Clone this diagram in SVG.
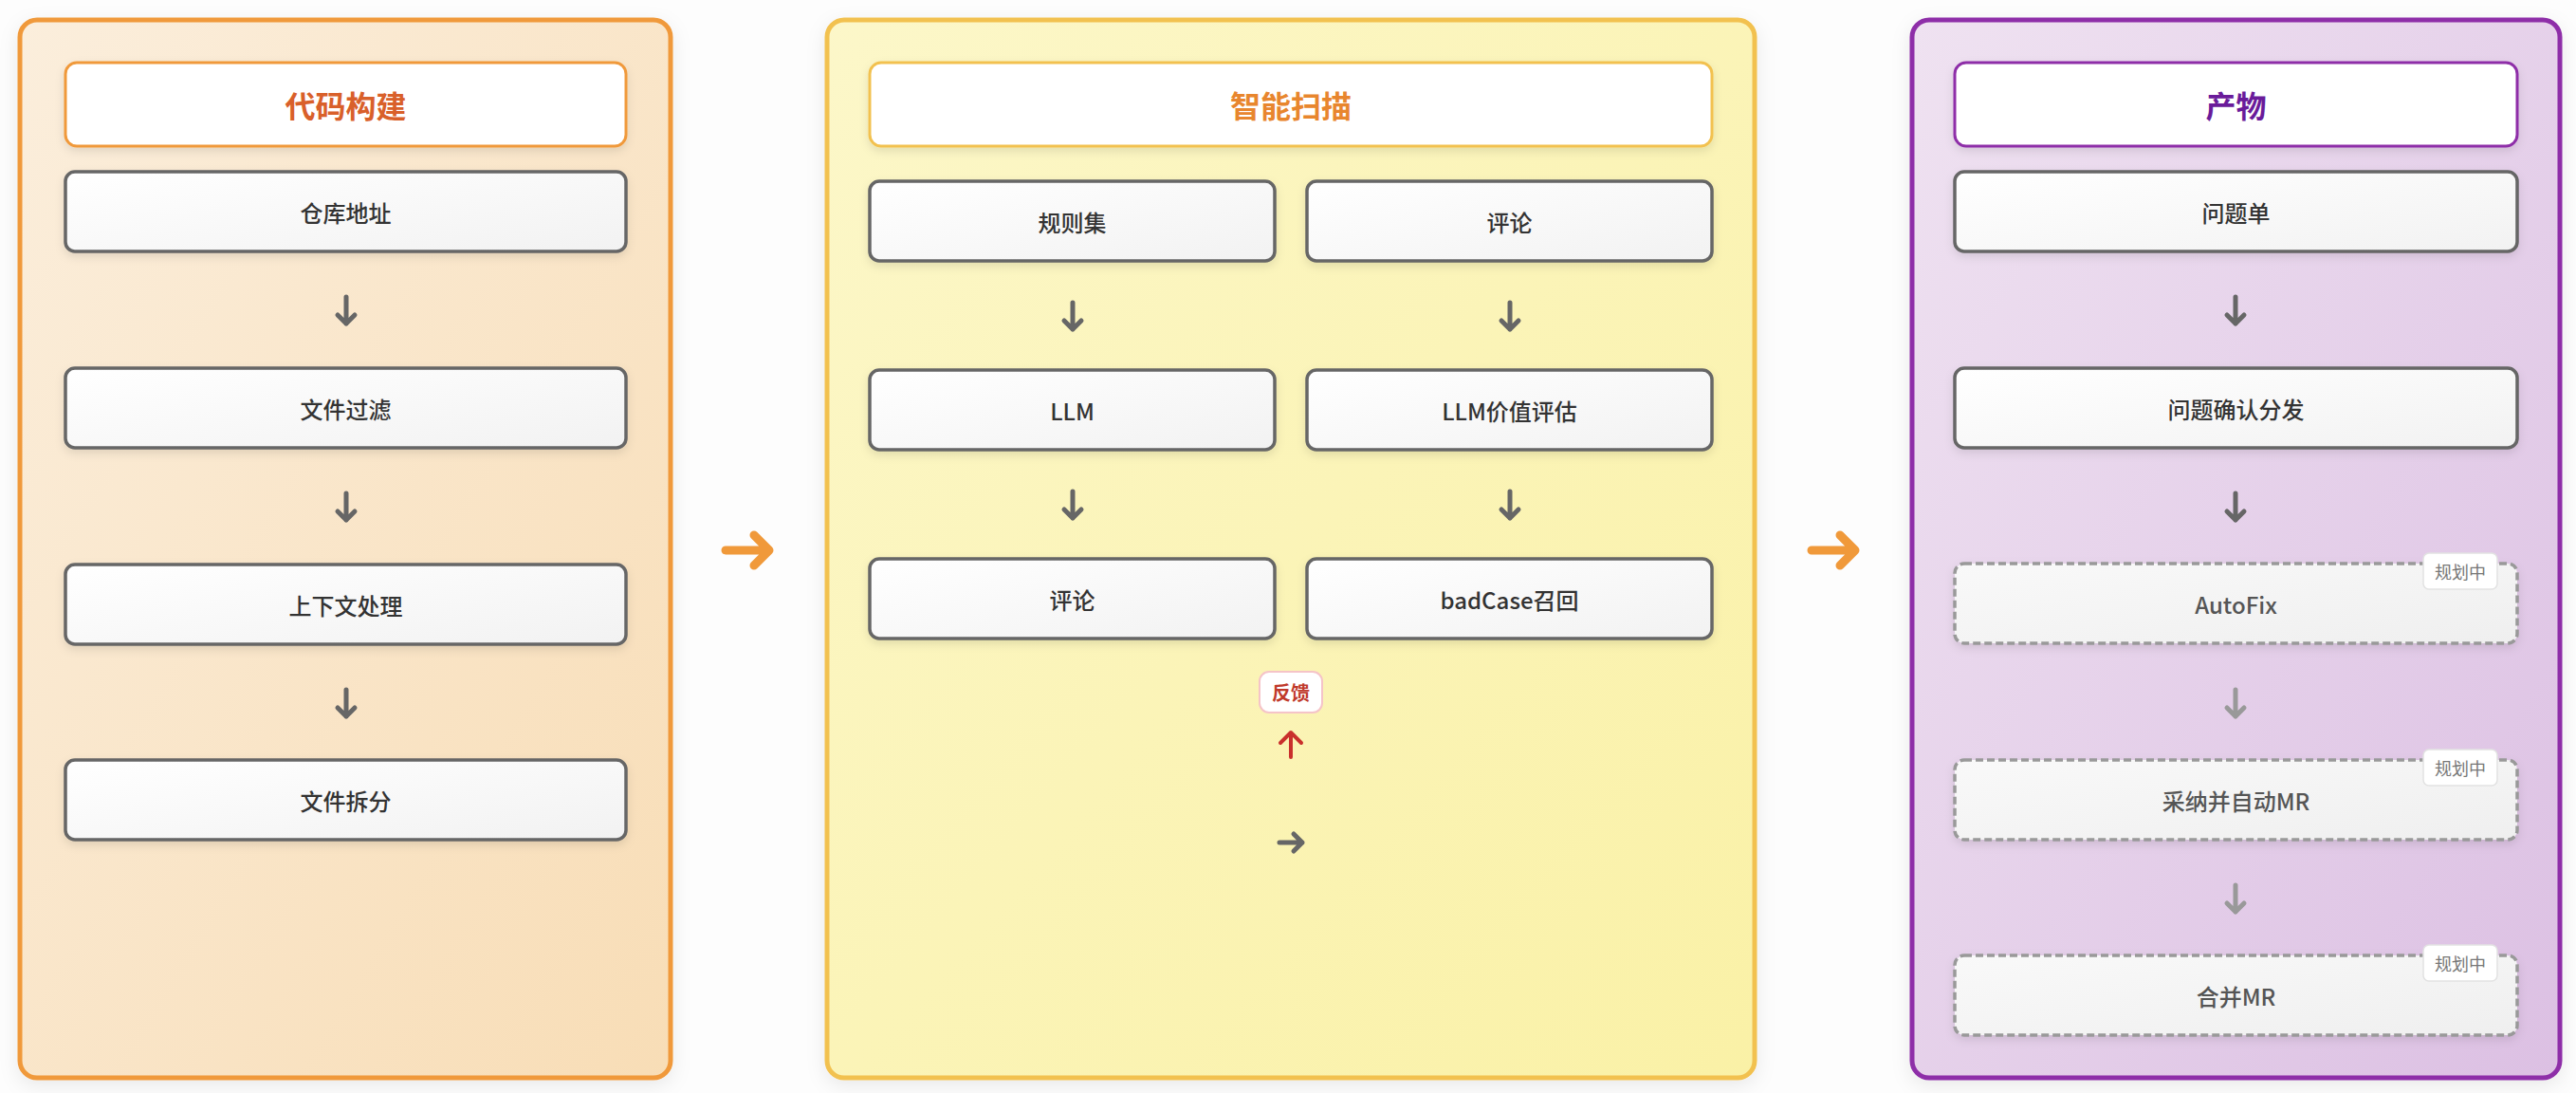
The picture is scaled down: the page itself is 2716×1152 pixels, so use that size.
<svg xmlns="http://www.w3.org/2000/svg" width="2716" height="1152" viewBox="0 0 2716 1152">
<defs>
<linearGradient id="gLeft" x1="0" y1="0" x2="1" y2="1"><stop offset="0" stop-color="#FBEEDC"/><stop offset="1" stop-color="#F8DDB6"/></linearGradient>
<linearGradient id="gMid" x1="0" y1="0" x2="1" y2="1"><stop offset="0" stop-color="#FCF7C9"/><stop offset="1" stop-color="#FAF1A6"/></linearGradient>
<linearGradient id="gRight" x1="0" y1="0" x2="1" y2="1"><stop offset="0" stop-color="#EFE2F1"/><stop offset="1" stop-color="#DCC0E3"/></linearGradient>
<linearGradient id="gNode" x1="0" y1="0" x2="1" y2="1"><stop offset="0" stop-color="#FFFFFF"/><stop offset="1" stop-color="#F2F2F2"/></linearGradient>
<linearGradient id="gPlan" x1="0" y1="0" x2="1" y2="1"><stop offset="0" stop-color="#F9F9F9"/><stop offset="1" stop-color="#EFEFEF"/></linearGradient>
<filter id="sPanel" x="-10%" y="-10%" width="120%" height="120%"><feDropShadow dx="0" dy="6" stdDeviation="10" flood-color="#000" flood-opacity="0.08"/></filter>
<filter id="sNode" x="-10%" y="-20%" width="120%" height="160%"><feDropShadow dx="0" dy="4" stdDeviation="5" flood-color="#000" flood-opacity="0.10"/></filter>
<style>
text{font-family:"Noto Sans CJK SC","Noto Sans",sans-serif;text-anchor:middle;dominant-baseline:central}
.panel{stroke-width:5}
.title{fill:#FFFFFF;stroke-width:3}
.tt{font-size:32px;font-weight:700}
.node{fill:url(#gNode);stroke:#666666;stroke-width:3.5}
.nt{font-size:24px;fill:#333333;font-weight:500}
.plan{fill:url(#gPlan);stroke:#999999;stroke-width:3.5;stroke-dasharray:8 4}
.pt{font-size:24px;fill:#555555;font-weight:500}
.badge{fill:#FFFFFF;stroke:#E2E2E2;stroke-width:1.5}
.bt{font-size:18px;fill:#777777}
.arr{fill:none;stroke-linecap:round;stroke-linejoin:round}
.dark{stroke:#666666;stroke-width:5}
.light{stroke:#999999;stroke-width:5}
.orange{stroke:#F0993A;stroke-width:9}
.red{stroke:#C9302C;stroke-width:4}
</style>
</defs>
<rect width="2716" height="1152" fill="#FDFDFD"/>

<g id="panel-build">
<rect class="panel" x="21" y="21" width="686" height="1115" rx="18" fill="url(#gLeft)" stroke="#F0993A" filter="url(#sPanel)"/>
<g id="title-build"><rect class="title" x="69" y="66" width="591" height="88" rx="12" stroke="#F0993A" filter="url(#sNode)"/><text class="tt" x="364.5" y="110" fill="#D9602A">代码构建</text></g>
<g id="n-repo"><rect class="node" x="69" y="181" width="591" height="84" rx="10" filter="url(#sNode)"/><text class="nt" x="364.5" y="223">仓库地址</text></g>
<g id="n-filter"><rect class="node" x="69" y="388" width="591" height="84" rx="10" filter="url(#sNode)"/><text class="nt" x="364.5" y="430">文件过滤</text></g>
<g id="n-context"><rect class="node" x="69" y="595" width="591" height="84" rx="10" filter="url(#sNode)"/><text class="nt" x="364.5" y="637">上下文处理</text></g>
<g id="n-split"><rect class="node" x="69" y="801" width="591" height="84" rx="10" filter="url(#sNode)"/><text class="nt" x="364.5" y="843">文件拆分</text></g>
</g>

<g id="panel-scan">
<rect class="panel" x="872" y="21" width="978" height="1115" rx="18" fill="url(#gMid)" stroke="#F2C150" filter="url(#sPanel)"/>
<g id="title-scan"><rect class="title" x="917" y="66" width="888" height="88" rx="12" stroke="#F2C150" fill="#FFFFF8" filter="url(#sNode)"/><text class="tt" x="1361" y="110" fill="#E8862E">智能扫描</text></g>
<g id="n-rules"><rect class="node" x="917" y="191" width="427" height="84" rx="10" filter="url(#sNode)"/><text class="nt" x="1130.5" y="233">规则集</text></g>
<g id="n-comment1"><rect class="node" x="1378" y="191" width="427" height="84" rx="10" filter="url(#sNode)"/><text class="nt" x="1591.5" y="233">评论</text></g>
<g id="n-llm"><rect class="node" x="917" y="390" width="427" height="84" rx="10" filter="url(#sNode)"/><text class="nt" x="1130.5" y="432">LLM</text></g>
<g id="n-llmeval"><rect class="node" x="1378" y="390" width="427" height="84" rx="10" filter="url(#sNode)"/><text class="nt" x="1591.5" y="432">LLM价值评估</text></g>
<g id="n-comment2"><rect class="node" x="917" y="589" width="427" height="84" rx="10" filter="url(#sNode)"/><text class="nt" x="1130.5" y="631">评论</text></g>
<g id="n-badcase"><rect class="node" x="1378" y="589" width="427" height="84" rx="10" filter="url(#sNode)"/><text class="nt" x="1591.5" y="631">badCase召回</text></g>
<g id="n-feedback"><rect x="1328" y="708" width="66" height="43" rx="10" fill="#FFFFFF" stroke="#F5C4C8" stroke-width="2"/><text x="1361" y="729.5" font-size="20" font-weight="600" fill="#C0392B">反馈</text></g>
</g>

<g id="panel-output">
<rect class="panel" x="2016" y="21" width="683" height="1115" rx="18" fill="url(#gRight)" stroke="#8E2FA8" filter="url(#sPanel)"/>
<g id="title-output"><rect class="title" x="2061" y="66" width="593" height="88" rx="12" stroke="#8E2FA8" filter="url(#sNode)"/><text class="tt" x="2357.5" y="110" fill="#6A1B9A">产物</text></g>
<g id="n-issue"><rect class="node" x="2061" y="181" width="593" height="84" rx="10" filter="url(#sNode)"/><text class="nt" x="2357.5" y="223">问题单</text></g>
<g id="n-dispatch"><rect class="node" x="2061" y="388" width="593" height="84" rx="10" filter="url(#sNode)"/><text class="nt" x="2357.5" y="430">问题确认分发</text></g>
<g id="n-autofix"><rect class="plan" x="2061" y="594" width="593" height="84" rx="10" filter="url(#sNode)"/><text class="pt" x="2357.5" y="636">AutoFix</text><rect class="badge" x="2555" y="583" width="78" height="38" rx="6"/><text class="bt" x="2594" y="602">规划中</text></g>
<g id="n-adopt"><rect class="plan" x="2061" y="801" width="593" height="84" rx="10" filter="url(#sNode)"/><text class="pt" x="2357.5" y="843">采纳并自动MR</text><rect class="badge" x="2555" y="790" width="78" height="38" rx="6"/><text class="bt" x="2594" y="809">规划中</text></g>
<g id="n-merge"><rect class="plan" x="2061" y="1007" width="593" height="84" rx="10" filter="url(#sNode)"/><text class="pt" x="2357.5" y="1049">合并MR</text><rect class="badge" x="2555" y="996" width="78" height="38" rx="6"/><text class="bt" x="2594" y="1015">规划中</text></g>
</g>

<g id="connectors" class="arr">
<path class="dark" d="M365,313 L365,341 M356,332 L365,341 L374,332"/>
<path class="dark" d="M365,520 L365,548 M356,539 L365,548 L374,539"/>
<path class="dark" d="M365,727 L365,755 M356,746 L365,755 L374,746"/>
<path class="dark" d="M1131,319 L1131,347 M1122,338 L1131,347 L1140,338"/>
<path class="dark" d="M1592,319 L1592,347 M1583,338 L1592,347 L1601,338"/>
<path class="dark" d="M1131,518 L1131,546 M1122,537 L1131,546 L1140,537"/>
<path class="dark" d="M1592,518 L1592,546 M1583,537 L1592,546 L1601,537"/>
<path class="red" d="M1361,798 L1361,772 M1350,783 L1361,772 L1372,783"/>
<path class="dark" d="M1349,888 L1373,888 M1364,879 L1373,888 L1364,897"/>
<path class="dark" d="M2357,313 L2357,341 M2348,332 L2357,341 L2366,332"/>
<path class="dark" d="M2357,520 L2357,548 M2348,539 L2357,548 L2366,539"/>
<path class="light" d="M2357,727 L2357,755 M2348,746 L2357,755 L2366,746"/>
<path class="light" d="M2357,933 L2357,961 M2348,952 L2357,961 L2366,952"/>
<path class="orange" d="M765,580 L811,580 M795,564 L811,580 L795,596"/>
<path class="orange" d="M1910,580 L1956,580 M1940,564 L1956,580 L1940,596"/>
</g>
</svg>
